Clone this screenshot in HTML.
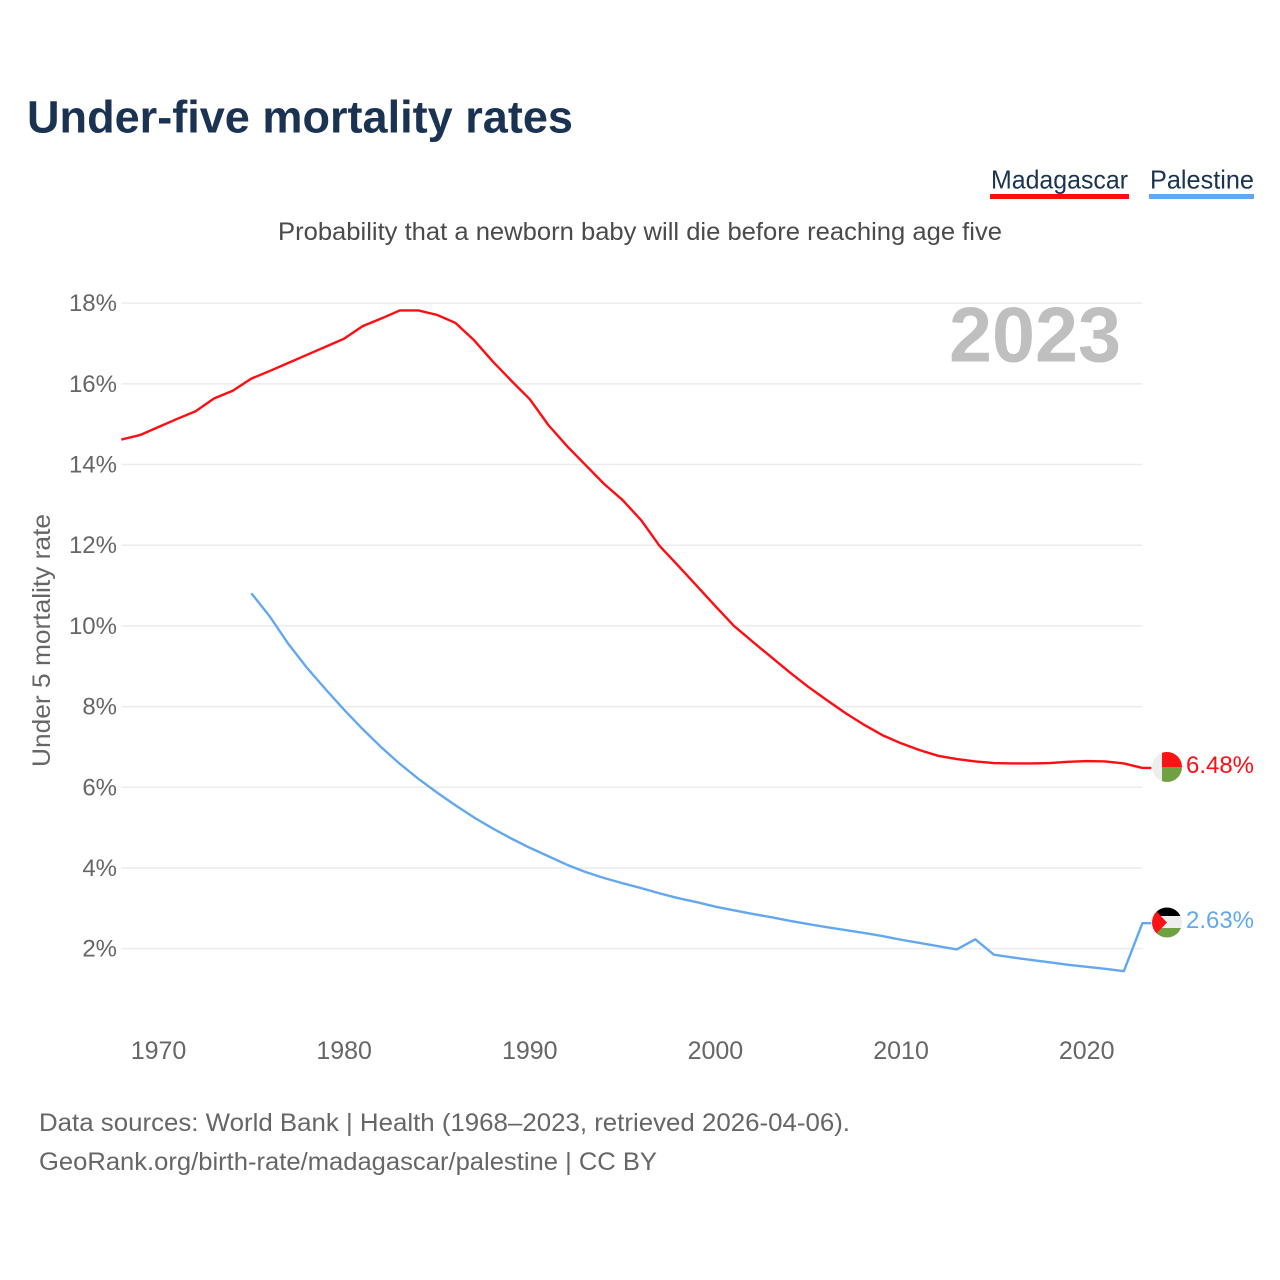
<!DOCTYPE html>
<html lang="en">
<head>
<meta charset="utf-8">
<title>Under-five mortality rates</title>
<style>
html,body{margin:0;padding:0;background:#fff;}
svg{display:block;}
text{font-family:"Liberation Sans",sans-serif;}
</style>
</head>
<body>
<svg id="chart" xmlns="http://www.w3.org/2000/svg" width="1280" height="1280" viewBox="0 0 1280 1280">
  <defs>
    <clipPath id="flag-clip-mg"><circle cx="1167" cy="767" r="15"></circle></clipPath>
    <clipPath id="flag-clip-ps"><circle cx="1167" cy="922.5" r="15"></circle></clipPath>
  </defs>
  <rect width="1280" height="1280" fill="#ffffff"></rect>
  <text x="27" y="132.5" font-size="45" font-weight="700" fill="#1b3352" textLength="546" lengthAdjust="spacingAndGlyphs">Under-five mortality rates</text>
  <g>
    <text x="991" y="188.5" font-size="26" fill="#1b3352" textLength="137" lengthAdjust="spacingAndGlyphs">Madagascar</text>
    <rect x="990" y="194" width="139" height="5" fill="#ff0d12"></rect>
  </g>
  <g>
    <text x="1150" y="188.5" font-size="26" fill="#1b3352" textLength="104" lengthAdjust="spacingAndGlyphs">Palestine</text>
    <rect x="1149" y="194" width="105" height="5" fill="#63a8ef"></rect>
  </g>
  <text x="278" y="240" font-size="25" fill="#4a4a4a" textLength="724" lengthAdjust="spacingAndGlyphs">Probability that a newborn baby will die before reaching age five</text>
  <g id="grid"></g>
  <g id="y-ticks"></g>
  <g id="x-ticks"></g>
  <text transform="translate(50 640.5) rotate(-90)" text-anchor="middle" font-size="25" fill="#666666" textLength="253" lengthAdjust="spacingAndGlyphs">Under 5 mortality rate</text>
  <text x="949" y="361.5" font-size="78" font-weight="700" fill="#bfbfbf" textLength="172" lengthAdjust="spacingAndGlyphs">2023</text>
  <path id="line-mg" fill="none" stroke="#ff0d12" stroke-width="2.4" stroke-linejoin="round" stroke-linecap="butt"></path>
  <path id="line-ps" fill="none" stroke="#63a8ef" stroke-width="2.4" stroke-linejoin="round" stroke-linecap="butt"></path>
  <g id="flag-mg" clip-path="url(#flag-clip-mg)">
    <rect x="1150" y="750" width="12" height="34" fill="#eeeeee"></rect>
    <rect x="1162" y="750" width="22" height="17" fill="#ff1216"></rect>
    <rect x="1162" y="767" width="22" height="17" fill="#6fa142"></rect>
  </g>
  <g id="flag-ps" clip-path="url(#flag-clip-ps)">
    <rect x="1150" y="905" width="34" height="11" fill="#000000"></rect>
    <rect x="1150" y="916" width="34" height="12" fill="#eeeeee"></rect>
    <rect x="1150" y="928" width="34" height="13" fill="#6fa142"></rect>
    <polygon points="1150,904.6 1167,922.5 1150,940.4" fill="#ff1216"></polygon>
  </g>
  <text id="value-mg" x="1186" y="773" font-size="24.5" fill="#ff0d12" textLength="68" lengthAdjust="spacingAndGlyphs"></text>
  <text id="value-ps" x="1186" y="928" font-size="24.5" fill="#63a8ef" textLength="68" lengthAdjust="spacingAndGlyphs"></text>
  <text x="39" y="1131" font-size="25" fill="#666666" textLength="811" lengthAdjust="spacingAndGlyphs">Data sources: World Bank | Health (1968–2023, retrieved 2026-04-06).</text>
  <text x="39" y="1170" font-size="25" fill="#666666" textLength="618" lengthAdjust="spacingAndGlyphs">GeoRank.org/birth-rate/madagascar/palestine | CC BY</text>
</svg>
<script>
var yTickValues = [18, 16, 14, 12, 10, 8, 6, 4, 2];
var xTickValues = [1970, 1980, 1990, 2000, 2010, 2020];
var madagascarStartYear = 1968;
var madagascarValues = [14.62, 14.73, 14.93, 15.13, 15.32, 15.64, 15.83, 16.13, 16.32, 16.52, 16.72, 16.92, 17.12, 17.43, 17.62, 17.82, 17.82, 17.71, 17.51, 17.08, 16.56, 16.08, 15.62, 14.98, 14.46, 13.99, 13.52, 13.12, 12.62, 11.98, 11.49, 10.99, 10.49, 10.0, 9.61, 9.23, 8.85, 8.49, 8.16, 7.84, 7.55, 7.29, 7.09, 6.92, 6.78, 6.70, 6.64, 6.6, 6.59, 6.59, 6.6, 6.63, 6.65, 6.64, 6.59, 6.48];
var palestineStartYear = 1975;
var palestineValues = [10.81, 10.23, 9.55, 8.96, 8.43, 7.92, 7.44, 6.99, 6.58, 6.21, 5.87, 5.55, 5.25, 4.98, 4.73, 4.5, 4.29, 4.08, 3.9, 3.75, 3.62, 3.50, 3.37, 3.25, 3.15, 3.04, 2.95, 2.86, 2.78, 2.69, 2.61, 2.53, 2.46, 2.39, 2.31, 2.22, 2.14, 2.06, 1.98, 2.23, 1.85, 1.78, 1.72, 1.66, 1.60, 1.55, 1.50, 1.44, 2.63];

var SVGNS = 'http://www.w3.org/2000/svg';
function xScale(year) { return 158.5 + (year - 1970) * 18.564; }
function yScale(v) { return 1029.3 - v * 40.34; }
var plotLeft = xScale(1968);
var plotRight = xScale(2023);
var stubLength = 9;

var gridGroup = document.getElementById('grid');
var yTickGroup = document.getElementById('y-ticks');
yTickValues.forEach(function (v) {
  var line = document.createElementNS(SVGNS, 'line');
  
  
  line.setAttribute('x1', plotLeft);
  line.setAttribute('x2', plotRight);
  line.setAttribute('y1', yScale(v));
  line.setAttribute('y2', yScale(v));
  line.setAttribute('stroke', '#ececec');
  line.setAttribute('stroke-width', '1.5');
  gridGroup.appendChild(line);

  var label = document.createElementNS(SVGNS, 'text');
  
  
  label.setAttribute('x', 117);
  label.setAttribute('y', yScale(v) + 8);
  label.setAttribute('text-anchor', 'end');
  label.setAttribute('font-size', '24');
  label.setAttribute('fill', '#666666');
  label.textContent = v + '%';
  yTickGroup.appendChild(label);
});

var xTickGroup = document.getElementById('x-ticks');
xTickValues.forEach(function (year) {
  var label = document.createElementNS(SVGNS, 'text');
  
  
  label.setAttribute('x', xScale(year));
  label.setAttribute('y', 1059);
  label.setAttribute('text-anchor', 'middle');
  label.setAttribute('font-size', '25');
  label.setAttribute('fill', '#666666');
  label.textContent = year;
  xTickGroup.appendChild(label);
});

function linePath(startYear, values) {
  var d = values.map(function (v, i) {
    return (i === 0 ? 'M' : 'L') + xScale(startYear + i).toFixed(2) + ' ' + yScale(v).toFixed(2);
  }).join(' ');
  var last = values.length - 1;
  d += ' L' + (xScale(startYear + last) + stubLength).toFixed(2) + ' ' + yScale(values[last]).toFixed(2);
  return d;
}
document.getElementById('line-mg').setAttribute('d', linePath(madagascarStartYear, madagascarValues));
document.getElementById('line-ps').setAttribute('d', linePath(palestineStartYear, palestineValues));

function placeEnd(values, flagId, valueId, refValue) {
  var last = values[values.length - 1];
  var dy = yScale(last) - yScale(refValue);
  document.getElementById(flagId).setAttribute('transform', 'translate(0 ' + dy.toFixed(2) + ')');
  var valueEl = document.getElementById(valueId);
  valueEl.setAttribute('y', (parseFloat(valueEl.getAttribute('y')) + dy).toFixed(2));
  valueEl.textContent = last.toFixed(2) + '%';
}
placeEnd(madagascarValues, 'flag-mg', 'value-mg', 6.48);
placeEnd(palestineValues, 'flag-ps', 'value-ps', 2.63);
</script>
</body>
</html>
